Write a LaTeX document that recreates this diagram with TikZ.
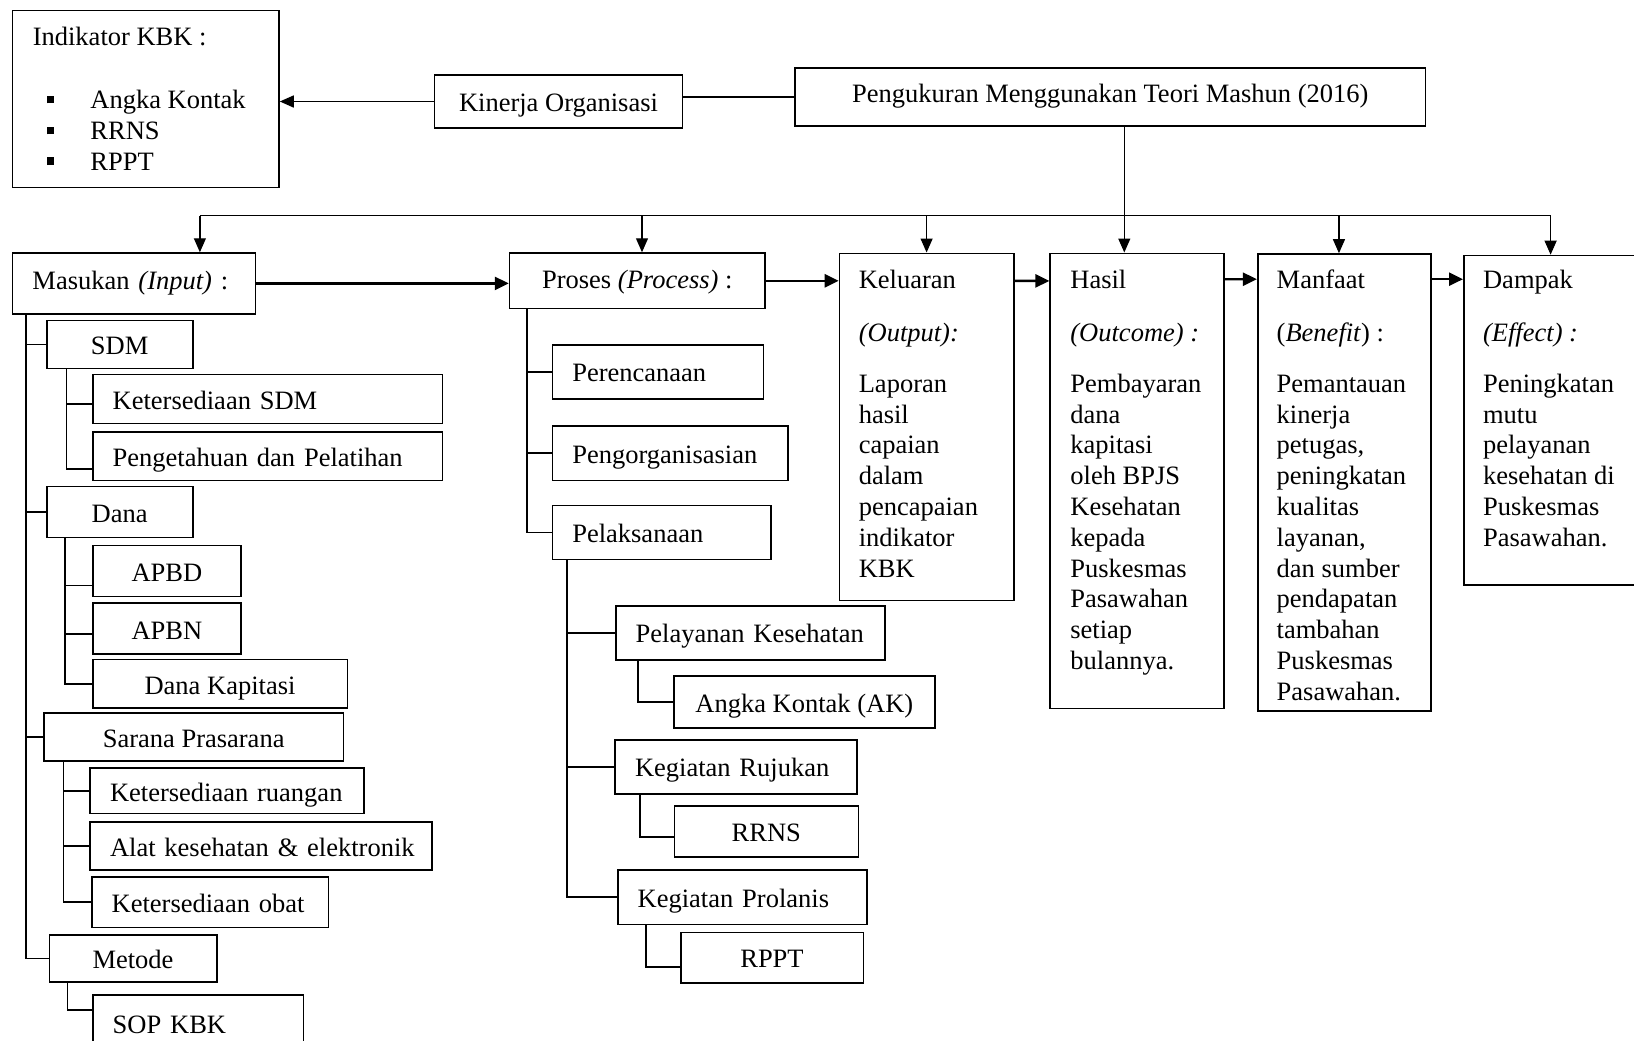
\documentclass[tikz,border=0pt]{standalone}
\usepackage{fontspec}
\setmainfont{Liberation Serif}
\usetikzlibrary{arrows.meta}

\newcommand{\kbkitem}{\hspace*{7.3pt}\makebox[21.5pt][l]{\rule[2.6pt]{3.4pt}{3.8pt}}}

\begin{document}
\begin{tikzpicture}[x=0.5pt,y=-0.5pt,font=\fontsize{13.25}{15.4}\selectfont]
	\tikzstyle{every node}=[inner sep=0pt]
	\tikzstyle{box}=[draw,line width=0.8pt,text height=10.5pt,text depth=0pt]
	\tikzstyle{lbox}=[box,align=left,inner xsep=10pt]
	\tikzstyle{txt}=[align=left,anchor=north west]
	\tikzstyle{link}=[line width=0.8pt]
	\tikzstyle{bus}=[line width=0.6pt]
	\tikzstyle{arr}=[line width=0.8pt,-{Triangle[length=7pt,width=6pt]}]
	\tikzstyle{flow}=[line width=1.2pt,-{Triangle[length=7pt,width=6.5pt]}]

	\useasboundingbox (0,0) rectangle (1634,1040);

	% top row
	\node[box,minimum width=133.25pt,minimum height=88.6pt] (indikator) at (145.75,99) {};
	\node[txt] (indikatorT) at (32.4,23.4) {\strut Indikator KBK :\\[16.25pt]
		\kbkitem Angka Kontak\\ \kbkitem RRNS\\ \kbkitem RPPT};
	\node[box,minimum width=124pt,minimum height=26.5pt,text height=10pt] (kinerja) at (558.5,101.5) {Kinerja Organisasi};
	\node[box,minimum width=315.3pt,minimum height=29.2pt,text height=6pt] (pengukuran) at (1110.3,96.9) {Pengukuran Menggunakan Teori Mashun (2016)};

	% middle row
	\node[lbox,text width=101.4pt,minimum height=30.35pt,text height=6pt] (masukan) at (133.9,283.4) {Masukan \textit{(Input)} :};
	\node[box,minimum width=127.7pt,minimum height=27.75pt,text height=7.5pt] (proses) at (637.3,280.8) {Proses \textit{(Process)} :};
	\node[box,minimum width=87.1pt,minimum height=173.6pt] (keluaran) at (926.6,426.9) {};
	\node[box,minimum width=87pt,minimum height=227.55pt] (hasil) at (1137.2,480.85) {};
	\node[box,minimum width=86.65pt,minimum height=228.5pt] (manfaat) at (1344.35,482.5) {};
	\node[box,minimum width=86.8pt,minimum height=164.75pt] (dampak) at (1550.6,420.25) {};

	\node[txt] (keluaranT) at ([shift={(9.85pt,-7.05pt)}]keluaran.north west) {\strut Keluaran\\[11.1pt]
		\textit{(Output):}\\[9.95pt] Laporan\\ hasil\\ capaian\\ dalam\\ pencapaian\\ indikator\\ KBK};
	\node[txt] (hasilT) at ([shift={(10.3pt,-7.05pt)}]hasil.north west) {\strut Hasil\\[11.1pt]
		\textit{(Outcome) :}\\[9.95pt] Pembayaran\\ dana\\ kapitasi\\ oleh BPJS\\ Kesehatan\\ kepada\\ Puskesmas\\ Pasawahan\\ setiap\\ bulannya.};
	\node[txt] (manfaatT) at ([shift={(9.7pt,-6.7pt)}]manfaat.north west) {\strut Manfaat\\[11.1pt]
		(\textit{Benefit}) :\\[9.95pt] Pemantauan\\ kinerja\\ petugas,\\ peningkatan\\ kualitas\\ layanan,\\ dan sumber\\ pendapatan\\ tambahan\\ Puskesmas\\ Pasawahan.};
	\node[txt] (dampakT) at ([shift={(9.85pt,-5.95pt)}]dampak.north west) {\strut Dampak\\[11.1pt]
		\textit{(Effect) :}\\[9.95pt] Peningkatan\\ mutu\\ pelayanan\\ kesehatan di\\ Puskesmas\\ Pasawahan.};

	% masukan tree
	\node[box,minimum width=73pt,minimum height=24.05pt] (sdm) at (119.7,344.35) {SDM};
	\node[lbox,text width=154.8pt,minimum height=24.5pt] (ketsdm) at (267.5,399.1) {Ketersediaan SDM};
	\node[lbox,text width=154.8pt,minimum height=24.15pt] (pengetahuan) at (267.5,456.15) {Pengetahuan dan Pelatihan};
	\node[box,minimum width=73pt,minimum height=25.5pt] (dana) at (119.7,511.9) {Dana};
	\node[box,minimum width=74.15pt,minimum height=25.5pt] (apbd) at (166.85,570.9) {APBD};
	\node[box,minimum width=74.15pt,minimum height=25.5pt] (apbn) at (166.85,628.5) {APBN};
	\node[box,minimum width=127.3pt,minimum height=24.3pt] (kapitasi) at (220,683.9) {Dana Kapitasi};
	\node[box,minimum width=149.65pt,minimum height=24pt] (sarana) at (193.65,737) {Sarana Prasarana};
	\node[lbox,text width=117pt,minimum height=22.7pt] (ruangan) at (227,790.7) {\mbox{Ketersediaan ruangan}};
	\node[lbox,text width=151pt,minimum height=24pt] (alat) at (261,846) {\mbox{Alat kesehatan \& elektronik}};
	\node[lbox,text width=98.3pt,minimum height=25.45pt] (obat) at (210,902.15) {\mbox{Ketersediaan obat}};
	\node[box,minimum width=83.7pt,minimum height=23.65pt] (metode) at (133,958.35) {Metode};
	\node[lbox,text width=85.3pt,minimum height=27.5pt] (sop) at (198,1022.5) {SOP KBK};

	% proses tree
	\node[lbox,text width=85.5pt,minimum height=27.1pt,text height=10pt] (perencanaan) at (657.8,371.9) {Perencanaan};
	\node[lbox,text width=97.7pt,minimum height=27.15pt,text height=10pt] (pengorganisasian) at (670,453.15) {Pengorganisasian};
	\node[lbox,text width=89.35pt,minimum height=27.15pt,text height=10pt] (pelaksanaan) at (661.65,532.45) {Pelaksanaan};
	\node[lbox,text width=114.65pt,minimum height=27.1pt,text height=10pt] (pelayanan) at (750.35,632.9) {\mbox{Pelayanan Kesehatan}};
	\node[box,minimum width=130.35pt,minimum height=26pt,text height=10pt] (ak) at (804.35,702) {Angka Kontak (AK)};
	\node[lbox,text width=101pt,minimum height=27.1pt,text height=10pt] (rujukan) at (736,766.9) {\mbox{Kegiatan Rujukan}};
	\node[box,minimum width=92pt,minimum height=25.5pt,text height=10pt] (rrns) at (766.3,831.5) {RRNS};
	\node[lbox,text width=104.5pt,minimum height=27.15pt,text height=10pt] (prolanis) at (742.2,897.15) {\mbox{Kegiatan Prolanis}};
	\node[box,minimum width=91.3pt,minimum height=25.3pt,text height=10pt] (rppt) at (772,957.7) {RPPT};

	% connectors top
	\coordinate (bus) at (0,215.7);
	\coordinate (pk) at ([xshift=7pt]pengukuran.south);
	\coordinate (mk) at ([xshift=33pt]masukan.north);
	\coordinate (pr) at ([xshift=2.35pt]proses.north);
	\coordinate (mf) at ([xshift=-2.7pt]manfaat.north);
	\draw[arr] (kinerja.west) -- (kinerja.west -| indikator.east);
	\draw[link] (pengukuran.west) -- (pengukuran.west -| kinerja.east);
	\draw[arr,line width=0.6pt] (pk) -- (pk |- hasil.north);
	\draw[bus] (bus -| mk) -- (bus -| dampak.north);
	\path[arr,line width=0.6pt]
	(bus -| mk) edge (mk)
	(bus -| pr) edge (pr)
	(bus -| keluaran.north) edge (keluaran.north)
	(bus -| mf) edge (mf)
	(bus -| dampak.north) edge (dampak.north)
	;

	% connectors middle row
	\draw[flow] (masukan.east) -- (masukan.east -| proses.west);
	\draw[flow] (proses.east) -- (proses.east -| keluaran.west);
	\draw[flow] ([yshift=-14.2pt]keluaran.north east) -- ([yshift=-14.2pt]hasil.north west);
	\draw[flow] ([yshift=-13.35pt]hasil.north east) -- ([yshift=-13pt]manfaat.north west);
	\draw[flow] ([yshift=-13pt]manfaat.north east) -- ([yshift=-12.25pt]dampak.north west);

	% connectors masukan
	\draw[link] ([xshift=7.1pt]masukan.south west) |- (sdm.west);
	\draw[link] ([xshift=7.1pt]masukan.south west) |- (dana.west);
	\draw[link] ([xshift=7.1pt]masukan.south west) |- (sarana.west);
	\draw[link] ([xshift=7.1pt]masukan.south west) |- (metode.west);
	\draw[link] ([xshift=10.3pt]sdm.south west) |- ([yshift=-2.35pt]ketsdm.west);
	\draw[link] ([xshift=10.3pt]sdm.south west) |- ([yshift=-6.4pt]pengetahuan.west);
	\draw[link] ([xshift=9.5pt]dana.south west) |- ([yshift=-7.3pt]apbd.west);
	\draw[link] ([xshift=9.5pt]dana.south west) |- ([yshift=-2.75pt]apbn.west);
	\draw[link] ([xshift=9.5pt]dana.south west) |- (kapitasi.west);
	\draw[link] ([xshift=10.15pt]sarana.south west) |- (ruangan.west);
	\draw[link] ([xshift=10.15pt]sarana.south west) |- (alat.west);
	\draw[link] ([xshift=10.15pt]sarana.south west) |- (obat.west);
	\draw[link] ([xshift=9.5pt]metode.south west) |- ([yshift=6.25pt]sop.west);

	% connectors proses
	\draw[link] ([xshift=9pt]proses.south west) |- (perencanaan.west);
	\draw[link] ([xshift=9pt]proses.south west) |- (pengorganisasian.west);
	\draw[link] ([xshift=9pt]proses.south west) |- (pelaksanaan.west);
	\draw[link] ([xshift=7.7pt]pelaksanaan.south west) |- (pelayanan.west);
	\draw[link] ([xshift=7.7pt]pelaksanaan.south west) |- (rujukan.west);
	\draw[link] ([xshift=7.7pt]pelaksanaan.south west) |- (prolanis.west);
	\draw[link] ([xshift=11.65pt]pelayanan.south west) |- (ak.west);
	\draw[link] ([xshift=12.85pt]rujukan.south west) |- ([yshift=-2.75pt]rrns.west);
	\draw[link] ([xshift=14.5pt]prolanis.south west) |- ([yshift=-4.5pt]rppt.west);
\end{tikzpicture}
\end{document}
